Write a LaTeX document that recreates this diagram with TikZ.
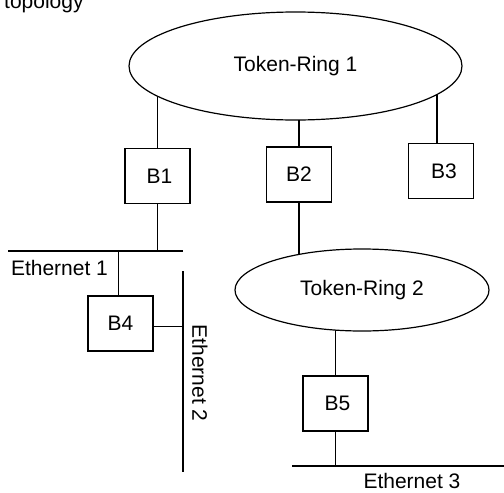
\documentclass[tikz,border=0pt]{standalone}
\usepackage{fontspec}
\setmainfont{Liberation Sans}
\usetikzlibrary{shapes.geometric,backgrounds}

\begin{document}
\begin{tikzpicture}[
    x=1pt, y=-1pt,
    font=\fontsize{21}{25}\selectfont,
    % Bridge nodes
    no/.style={
        draw, line width=1.2pt, fill=white,
        minimum width=65pt, minimum height=55pt,
        inner sep=0pt
    },
    % Token-ring nodes
    anel/.style={
        draw, ellipse, line width=1.2pt, fill=white,
        inner sep=0pt
    },
    % Plain labels
    rotulo/.style={inner sep=0pt},
    linha/.style={draw, line width=1.2pt}
]
\useasboundingbox (0,0) rectangle (504,493);

% ---- TITLE (cut off at the top) ----
\node[rotulo, anchor=base west] (titulo) at (4,8) {topology};

% ---- RINGS ----
\node[anel, minimum width=333pt, minimum height=108pt] (tr1) at (295.5,66)  {Token-Ring 1};
\node[anel, minimum width=254pt, minimum height=82pt]  (tr2) at (362,290)   {Token-Ring 2};

% ---- BRIDGES ----
\node[no] (b1) at (157.5,176)   {\hspace{4pt}B1};
\node[no] (b2) at (299,174.5)   {B2};
\node[no] (b3) at (441,171)     {\hspace{6pt}B3};
\node[no] (b4) at (120.5,323.5) {B4};
\node[no] (b5) at (335.5,403.5) {\hspace{4pt}B5};

% ---- ETHERNET SEGMENTS ----
\coordinate (eth1w) at (8,251);
\coordinate (eth1e) at (183,251);
\coordinate (eth2n) at (183,271);
\coordinate (eth2s) at (183,472);
\coordinate (eth3w) at (292,466);
\coordinate (eth3e) at (504,466);

\draw[linha] (eth1w) -- (eth1e);
\draw[linha] (eth2n) -- (eth2s);
\draw[linha] (eth3w) -- (eth3e);

\node[rotulo] (l_eth1) at (59.5,268) {Ethernet 1};
\node[rotulo, rotate=-90] (l_eth2) at (200,373) {Ethernet 2};
\node[rotulo, anchor=base] (l_eth3) at (412,488) {Ethernet 3};

% ---- RING ATTACHMENTS (behind the rings) ----
\begin{pgfonlayer}{background}
\draw[linha] (b1.north) -- (b1.north |- tr1.center);
\draw[linha] (b2.north) -- (b2.north |- tr1.center);
\draw[linha] ([xshift=-4pt]b3.north) -- ([xshift=-4pt]b3.north |- tr1.center);
\draw[linha] (b2.south) -- (b2.south |- tr2.center);
\draw[linha] (b5.north) -- (b5.north |- tr2.center);
\end{pgfonlayer}

% ---- ETHERNET ATTACHMENTS ----
\draw[linha] (b1.south) -- (b1.south |- eth1w);
\draw[linha] ([xshift=-2pt]b4.north) -- ([xshift=-2pt]b4.north |- eth1w);
\draw[linha] ([yshift=-3pt]b4.east) -- ([yshift=-3pt]b4.east -| eth2n);
\draw[linha] (b5.south) -- (b5.south |- eth3w);

\end{tikzpicture}
\end{document}
